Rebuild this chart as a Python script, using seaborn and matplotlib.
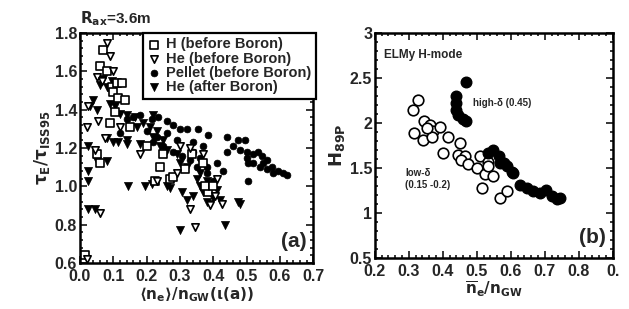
import numpy as np
import pandas as pd
import seaborn as sns
import matplotlib
matplotlib.use("Agg")
import matplotlib.pyplot as plt
from matplotlib.ticker import AutoMinorLocator, MultipleLocator

# ---- panel (a) data: <ne>/nGW vs tau_E/tau_ISS95 ----
h_before_x = [0.07, 0.06, 0.08, 0.095, 0.11, 0.125, 0.10, 0.115, 0.135, 0.105, 0.15, 0.09,
              0.05, 0.06, 0.20, 0.25, 0.24, 0.225, 0.27, 0.315, 0.28, 0.335, 0.37, 0.385,
              0.375, 0.40, 0.015]
h_before_y = [1.71, 1.63, 1.60, 1.52, 1.54, 1.54, 1.49, 1.46, 1.45, 1.39, 1.31, 1.33,
              1.17, 1.12, 1.21, 1.17, 1.10, 1.03, 1.04, 1.09, 1.05, 1.17, 1.12, 0.97,
              1.00, 1.00, 0.64]

he_before_x = [0.08, 0.09, 0.10, 0.05, 0.065, 0.025, 0.02, 0.045, 0.075, 0.12, 0.055, 0.18,
               0.30, 0.33, 0.345, 0.39, 0.425, 0.405, 0.02, 0.06, 0.23, 0.29, 0.33, 0.37, 0.41]
he_before_y = [1.75, 1.68, 1.60, 1.57, 1.55, 1.42, 1.31, 1.19, 1.25, 1.31, 1.34, 1.17,
               1.21, 0.88, 0.79, 0.90, 0.91, 0.95, 0.62, 0.86, 1.03, 1.07, 1.20, 1.17, 1.04]

pellet_x = [0.355, 0.385, 0.44, 0.475, 0.495, 0.44, 0.46, 0.48, 0.50, 0.52, 0.50, 0.505,
            0.52, 0.54, 0.55, 0.56, 0.575, 0.58, 0.595, 0.61, 0.62, 0.56, 0.545, 0.535,
            0.43, 0.505, 0.37, 0.34, 0.30, 0.28, 0.26, 0.235, 0.215, 0.18, 0.16, 0.14,
            0.20, 0.23, 0.26, 0.29, 0.32, 0.22, 0.25, 0.28, 0.305, 0.33, 0.35, 0.38,
            0.40, 0.36, 0.34, 0.38, 0.41, 0.12]
pellet_y = [1.30, 1.27, 1.26, 1.24, 1.24, 1.18, 1.21, 1.19, 1.18, 1.17, 1.15, 1.12,
            1.12, 1.10, 1.12, 1.09, 1.10, 1.07, 1.08, 1.07, 1.06, 1.14, 1.16, 1.18,
            1.08, 1.03, 1.21, 1.23, 1.30, 1.32, 1.34, 1.36, 1.35, 1.37, 1.36, 1.35,
            1.29, 1.26, 1.28, 1.24, 1.30, 1.23, 1.21, 1.18, 1.16, 1.14, 1.10, 1.07,
            1.03, 1.15, 1.18, 1.10, 1.12, 1.28]

he_after_x = [0.03, 0.05, 0.04, 0.06, 0.08, 0.07, 0.095, 0.09, 0.105, 0.12, 0.14, 0.08,
              0.10, 0.115, 0.14, 0.025, 0.05, 0.08, 0.025, 0.025, 0.025, 0.045, 0.145,
              0.195, 0.215, 0.26, 0.27, 0.305, 0.32, 0.30, 0.435, 0.48, 0.475, 0.39,
              0.36, 0.37, 0.34, 0.40, 0.42, 0.35, 0.38, 0.36, 0.32, 0.30, 0.29, 0.25,
              0.22, 0.21, 0.23, 0.19, 0.17, 0.24, 0.26, 0.165, 0.22, 0.38, 0.41, 0.14, 0.18]
he_after_y = [1.42, 1.40, 1.45, 1.53, 1.52, 1.56, 1.55, 1.43, 1.42, 1.38, 1.37, 1.25,
              1.23, 1.23, 1.24, 1.21, 1.13, 1.13, 1.08, 1.03, 0.88, 0.88, 1.00,
              1.00, 1.01, 1.00, 0.99, 0.97, 0.93, 0.77, 0.80, 0.91, 0.92, 0.91,
              1.00, 0.97, 0.95, 0.94, 0.93, 1.04, 1.03, 1.07, 1.10, 1.12, 1.17, 1.24,
              1.26, 1.31, 1.29, 1.33, 1.31, 1.21, 1.19, 1.36, 1.37, 0.92, 0.98, 1.22, 1.22]

# ---- panel (b) data: ne/nGW vs H89P ----
low_delta_x = [0.328, 0.311, 0.345, 0.315, 0.342, 0.362, 0.372, 0.391, 0.367, 0.352, 0.416,
               0.401, 0.45, 0.445, 0.465, 0.455, 0.475, 0.50, 0.509, 0.534, 0.524, 0.549,
               0.514, 0.568, 0.588, 0.534]
low_delta_y = [2.26, 2.15, 2.02, 1.89, 1.81, 1.98, 1.91, 1.96, 1.85, 1.94, 1.85,
               1.67, 1.78, 1.65, 1.63, 1.59, 1.54, 1.50, 1.63, 1.57, 1.43, 1.41,
               1.28, 1.17, 1.24, 1.52]

high_delta_x = [0.468, 0.44, 0.439, 0.44, 0.445, 0.46, 0.468, 0.549, 0.564, 0.579, 0.588,
                0.603, 0.607, 0.627, 0.647, 0.666, 0.686, 0.705, 0.72, 0.745, 0.735,
                0.568, 0.534]
high_delta_y = [2.46, 2.30, 2.22, 2.15, 2.09, 2.04, 2.02, 1.70, 1.63, 1.56, 1.52,
                1.46, 1.44, 1.31, 1.28, 1.24, 1.22, 1.26, 1.19, 1.17, 1.16,
                1.56, 1.67]

sns.set_theme(style="ticks")
plt.rcParams['font.family'] = ['Liberation Sans', 'DejaVu Sans']
plt.rcParams['font.weight'] = 'bold'
plt.rcParams['mathtext.fontset'] = 'dejavusans'
plt.rcParams['mathtext.default'] = 'bf'

fig = plt.figure(figsize=(6.29, 3.09), dpi=100)
ax1 = fig.add_axes([0.127, 0.149, 0.371, 0.744])
ax2 = fig.add_axes([0.596, 0.165, 0.378, 0.728])

# panel (a)
sns.scatterplot(x=pellet_x, y=pellet_y, ax=ax1, marker='o', s=24, color='black',
                edgecolor='black', linewidth=0.5, label='Pellet (before Boron)', zorder=3)
sns.scatterplot(x=he_after_x, y=he_after_y, ax=ax1, marker='v', s=34, color='black',
                edgecolor='black', linewidth=0.5, label='He (after Boron)', zorder=3)
sns.scatterplot(x=h_before_x, y=h_before_y, ax=ax1, marker='s', s=26, color='white',
                edgecolor='black', linewidth=1.2, label='H (before Boron)', zorder=4)
sns.scatterplot(x=he_before_x, y=he_before_y, ax=ax1, marker='v', s=28, color='white',
                edgecolor='black', linewidth=1.2, label='He (before Boron)', zorder=4)

handles, labels = ax1.get_legend_handles_labels()
order = ['H (before Boron)', 'He (before Boron)', 'Pellet (before Boron)', 'He (after Boron)']
hmap = dict(zip(labels, handles))
leg = ax1.legend([hmap[k] for k in order], order, loc='upper right',
                 bbox_to_anchor=(1.01, 1.0), borderaxespad=0, fancybox=False,
                 frameon=True, fontsize=10.5, handletextpad=0.3, labelspacing=0.02,
                 borderpad=0.3, handlelength=1.0, markerscale=1.0)
leg.get_frame().set_edgecolor('black')
leg.get_frame().set_linewidth(1.6)
leg.get_frame().set_alpha(1)
leg.set_zorder(10)

ax1.set_xlim(0.0, 0.7)
ax1.set_ylim(0.6, 1.8)
ax1.xaxis.set_major_locator(MultipleLocator(0.1))
ax1.yaxis.set_major_locator(MultipleLocator(0.2))
ax1.xaxis.set_major_formatter(plt.FormatStrFormatter('%.1f'))
ax1.yaxis.set_major_formatter(plt.FormatStrFormatter('%.1f'))
ax1.set_xlabel(r'$\langle n_e\rangle/n_{GW}(\iota(a))$', fontsize=11, labelpad=1)
ax1.set_ylabel(r'$\tau_E/\tau_{ISS95}$', fontsize=12, labelpad=2)
ax1.text(0.97, 0.05, '(a)', transform=ax1.transAxes, ha='right', va='bottom',
         fontsize=15, fontweight='bold')
ax1.text(0.0, 1.02, r'$R_{ax}$=3.6m', transform=ax1.transAxes, ha='left', va='bottom',
         fontsize=11, fontweight='bold')

# panel (b)
sns.scatterplot(x=low_delta_x, y=low_delta_y, ax=ax2, marker='o', s=58, color='white',
                edgecolor='black', linewidth=1.2, zorder=3)
sns.scatterplot(x=high_delta_x, y=high_delta_y, ax=ax2, marker='o', s=58, color='black',
                edgecolor='black', linewidth=1.0, zorder=4)
ax2.set_xlim(0.2, 0.9)
ax2.set_ylim(0.5, 3.0)
ax2.set_xticks([0.2, 0.3, 0.4, 0.5, 0.6, 0.7, 0.8, 0.9])
ax2.set_xticklabels(['0.2', '0.3', '0.4', '0.5', '0.6', '0.7', '0.8', '0.'])
ax2.set_yticks([0.5, 1, 1.5, 2, 2.5, 3])
ax2.set_yticklabels(['0.5', '1', '1.5', '2', '2.5', '3'])
ax2.set_xlabel(r'$\overline{n}_e/n_{GW}$', fontsize=11, labelpad=1)
ax2.set_ylabel(r'$H_{89P}$', fontsize=13, labelpad=2)
ax2.text(0.04, 0.93, 'ELMy H-mode', transform=ax2.transAxes, ha='left', va='top',
         fontsize=8.5, fontweight='bold')
ax2.text(0.49, 2.22, 'high-δ (0.45)', ha='left', va='center', fontsize=7, fontweight='bold')
ax2.text(0.29, 1.38, 'low-δ\n(0.15 -0.2)', ha='left', va='center', fontsize=7,
         fontweight='bold', linespacing=1.2)
ax2.text(0.97, 0.05, '(b)', transform=ax2.transAxes, ha='right', va='bottom',
         fontsize=15, fontweight='bold')

for ax in (ax1, ax2):
    ax.xaxis.set_minor_locator(AutoMinorLocator(5))
    ax.yaxis.set_minor_locator(AutoMinorLocator(5))
    ax.tick_params(which='both', direction='in', top=True, right=True, width=1.3)
    ax.tick_params(which='major', length=5, labelsize=11.5, pad=2)
    ax.tick_params(which='minor', length=2.5)
    ax.tick_params(axis='x', which='major', pad=4)
    for lab in ax.get_xticklabels() + ax.get_yticklabels():
        lab.set_fontweight('bold')
    for sp in ax.spines.values():
        sp.set_linewidth(1.8)
        sp.set_color('black')

fig.savefig('out.png', dpi=100)
